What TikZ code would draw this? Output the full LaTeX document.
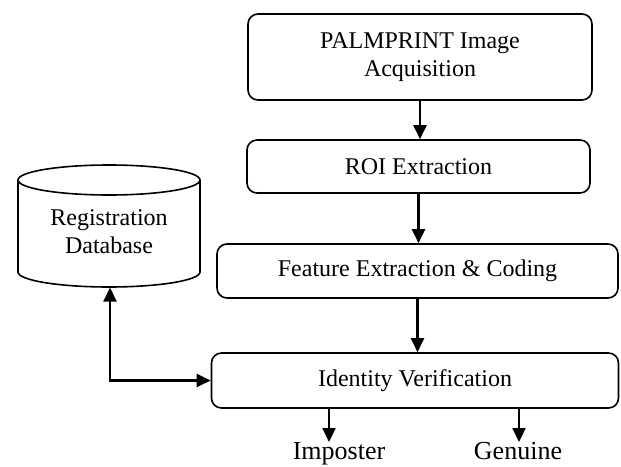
\documentclass[tikz,border=0pt]{standalone}
\usepackage{fontspec}
\setmainfont{Liberation Serif}
\usetikzlibrary{arrows.meta}
\begin{document}
\begin{tikzpicture}[x=1pt,y=-1pt,
  stepbox/.style={draw, line width=1.6pt, rounded corners=10pt, align=center,
    inner sep=0pt, font=\fontsize{24pt}{28pt}\selectfont},
  arr/.style={line width=2.2pt, -{Triangle[length=14pt,width=13pt]}},
  dbl/.style={line width=2.2pt, {Triangle[length=14pt,width=13pt]}-{Triangle[length=14pt,width=13pt]}},
  lbl/.style={inner sep=0pt, anchor=base, font=\fontsize{26pt}{30pt}\selectfont},
  dbtxt/.style={inner sep=0pt, align=center, font=\fontsize{24pt}{28pt}\selectfont}]
\useasboundingbox (0,0) rectangle (621,466);
% boxes
\node[stepbox, minimum width=344pt, minimum height=86pt] (b1) at (420,57) {PALMPRINT Image\\Acquisition};
\node[stepbox, minimum width=343pt, minimum height=53pt] (b2) at (418.5,166.5) {ROI Extraction};
\node[stepbox, minimum width=401pt, minimum height=54pt] (b3) at (417.5,271) {Feature Extraction \& Coding};
\node[stepbox, minimum width=407pt, minimum height=55pt] (b4) at (415,380.5) {Identity Verification};
% database cylinder
\draw[line width=1.6pt] (18,180) -- (18,272) arc[start angle=180, end angle=0, x radius=91, y radius=15] -- (200,180);
\draw[line width=1.6pt] (109,180) ellipse[x radius=91, y radius=15];
\node[dbtxt] (db) at (109,232) {Registration\\Database};
\coordinate (dbb) at (110,287.5);
% outcome labels
\node[lbl] (imp) at (339,459.5) {Imposter};
\node[lbl] (gen) at (518,459.5) {Genuine};
\coordinate (i1) at (329,442);
\coordinate (g1) at (519,442);
% connectors
\draw[arr] (b1.south) -- (b1.south |- b2.north);
\draw[arr] (b2.south) -- (b2.south |- b3.north);
\draw[arr] (b3.south) -- (b3.south |- b4.north);
\draw[arr] (b4.south -| i1) -- (i1);
\draw[arr] (b4.south -| g1) -- (g1);
\draw[dbl] (dbb) |- (b4.west);
\end{tikzpicture}
\end{document}
